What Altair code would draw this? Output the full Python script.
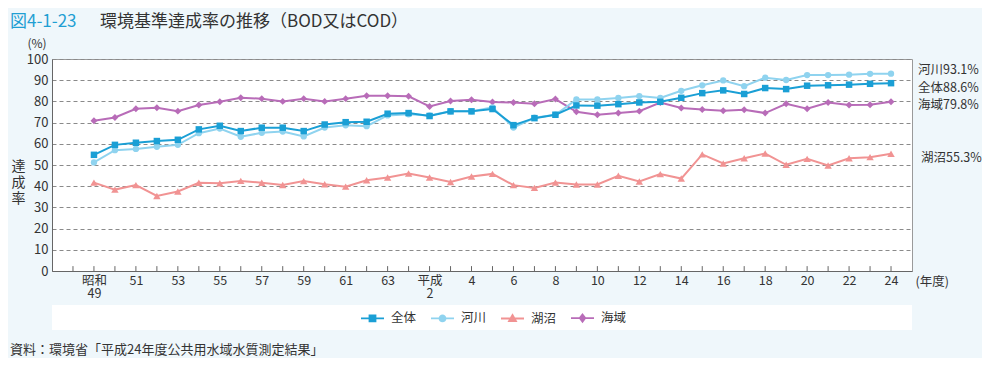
import json
import altair as alt
import pandas as pd

# ---------------- data ----------------
years = [1974, 1975, 1976, 1977, 1978, 1979, 1980, 1981, 1982, 1983, 1984, 1985, 1986,
         1987, 1988, 1989, 1990, 1991, 1992, 1993, 1994, 1995, 1996, 1997, 1998, 1999,
         2000, 2001, 2002, 2003, 2004, 2005, 2006, 2007, 2008, 2009, 2010, 2011, 2012]

zentai = [54.8, 59.5, 60.5, 61.3, 61.9, 66.8, 68.5, 66.0, 67.6, 67.6, 66.0, 69.1, 70.2,
          70.4, 74.2, 74.5, 73.1, 75.3, 75.3, 76.4, 68.8, 72.1, 73.7, 78.1, 78.0, 78.7,
          79.5, 79.8, 81.7, 83.9, 85.2, 83.5, 86.3, 85.8, 87.4, 87.6, 87.9, 88.3, 88.6]
kasen = [51.2, 57.0, 57.6, 58.6, 59.5, 65.0, 67.2, 63.3, 65.2, 65.8, 63.5, 67.7, 68.7,
         68.3, 73.4, 73.9, 73.4, 75.3, 75.3, 77.2, 67.7, 72.3, 73.7, 80.9, 80.9, 81.6,
         82.5, 81.6, 85.0, 87.6, 89.9, 87.2, 91.2, 90.1, 92.4, 92.4, 92.6, 93.0, 93.1]
kosho = [41.7, 38.4, 40.5, 35.4, 37.5, 41.6, 41.4, 42.5, 41.6, 40.6, 42.4, 40.9, 39.8,
         42.8, 44.1, 46.0, 44.1, 42.0, 44.6, 45.8, 40.5, 39.2, 41.7, 40.8, 40.8, 44.9,
         42.2, 45.7, 43.6, 55.0, 50.7, 53.2, 55.4, 50.1, 52.9, 49.8, 53.2, 53.7, 55.3]
kaiiki = [70.9, 72.4, 76.5, 77.0, 75.4, 78.3, 79.8, 81.7, 81.3, 80.0, 81.3, 80.0, 81.3,
          82.7, 82.7, 82.4, 77.6, 80.2, 80.8, 79.7, 79.5, 78.9, 81.1, 75.1, 73.7, 74.5,
          75.4, 79.5, 76.9, 76.2, 75.6, 76.1, 74.5, 78.9, 76.5, 79.5, 78.3, 78.4, 79.8]

series_names = ["全体", "河川", "湖沼", "海域"]
series_colors = ["#1a9fd5", "#8fd3ef", "#f19393", "#b86cb8"]
end_labels = ["全体88.6%", "河川93.1%", "湖沼55.3%", "海域79.8%"]

x_label_years = [1974, 1976, 1978, 1980, 1982, 1984, 1986, 1988, 1990, 1992,
                 1994, 1996, 1998, 2000, 2002, 2004, 2006, 2008, 2010, 2012]
x_labels = ["昭和\n49", "51", "53", "55", "57", "59", "61", "63", "平成\n2", "4",
            "6", "8", "10", "12", "14", "16", "18", "20", "22", "24"]
tick_years = list(range(1973, 2013))
y_ticks = [0, 10, 20, 30, 40, 50, 60, 70, 80, 90, 100]

title_num = "図4-1-23"
title_text = "環境基準達成率の推移（BOD又はCOD）"
source_text = "資料：環境省「平成24年度公共用水域水質測定結果」"

# ---------------- build ----------------
FONT = "Noto Sans CJK JP"
TXT = "#333333"
W, H = 860, 212
color_of = dict(zip(series_names, series_colors))

rows = []
for name, vals in zip(series_names, [zentai, kasen, kosho, kaiiki]):
    for yr, v in zip(years, vals):
        rows.append({"year": yr, "value": v, "series": name})
df = pd.DataFrame(rows)

end_df = pd.DataFrame({
    "series": series_names,
    "label": end_labels,
    "year": [years[-1]] * 4,
    "value": [zentai[-1], kasen[-1], kosho[-1], kaiiki[-1]],
})

label_arr = [l.split("\n") if "\n" in l else l for l in x_labels]
label_expr = json.dumps(label_arr, ensure_ascii=False) + "[round((datum.value - 1974) / 2)]"

xscale = alt.Scale(domain=[1972, 2013], nice=False, zero=False)
yscale = alt.Scale(domain=[0, 100], nice=False, zero=True)

x_axis = alt.Axis(values=x_label_years, labelExpr=label_expr, ticks=False, grid=False,
                  labelFontSize=12.5, labelLineHeight=13, labelPadding=3, labelColor=TXT,
                  labelFont=FONT, labelOverlap=False, labelFlush=False, labelBound=False,
                  domainColor="#666666", title="(年度)", titleX=863, titleY=10,
                  titleAlign="left", titleBaseline="middle", titleFont=FONT,
                  titleFontSize=12.5, titleFontWeight="normal", titleColor=TXT)
y_axis = alt.Axis(values=y_ticks, ticks=False, grid=True, gridColor="#8a8a8a",
                  gridDash=[4, 3], labelFontSize=13, labelPadding=4, labelColor=TXT,
                  labelFont=FONT, domainColor="#666666",
                  title=["達", "成", "率"], titleAngle=0, titleX=-34, titleY=107,
                  titleAlign="center", titleBaseline="middle", titleFont=FONT,
                  titleFontSize=14, titleLineHeight=16, titleFontWeight="normal",
                  titleColor=TXT)

X = alt.X("year:Q", scale=xscale, axis=x_axis)
Y = alt.Y("value:Q", scale=yscale, axis=y_axis)

one = pd.DataFrame({"a": [0]})

band = alt.Chart(one).mark_rect(color="white").encode(
    x=alt.value(0), x2=alt.value(W), y=alt.value(246), y2=alt.value(271))

tick_df = pd.DataFrame({"year": tick_years, "y0": [0] * len(tick_years),
                        "y1": [2.3] * len(tick_years)})
ticks = alt.Chart(tick_df).mark_rule(color="#666666", strokeWidth=1).encode(
    x=X, y=alt.Y("y0:Q", scale=yscale, axis=y_axis), y2="y1:Q")

shapes = {"全体": "square", "河川": "circle", "湖沼": "triangle-up", "海域": "diamond"}
sizes = {"全体": 42, "河川": 40, "湖沼": 55, "海域": 48}
draw_order = ["湖沼", "海域", "河川", "全体"]

series_layers = []
for s in draw_order:
    sub = alt.Chart(df).transform_filter(alt.datum.series == s)
    series_layers.append(sub.mark_line(strokeWidth=2, color=color_of[s]).encode(x=X, y=Y))
    series_layers.append(sub.mark_point(filled=True, shape=shapes[s], size=sizes[s],
                                        opacity=1, color=color_of[s]).encode(x=X, y=Y))

end_offsets = {"河川": (27, -4), "全体": (27, 5), "海域": (27, 3), "湖沼": (30, 4)}
end_layers = []
for s in series_names:
    dx, dy = end_offsets[s]
    end_layers.append(
        alt.Chart(end_df).transform_filter(alt.datum.series == s)
        .mark_text(align="left", baseline="middle", dx=dx, dy=dy, font=FONT,
                   fontSize=12.5, color=TXT)
        .encode(x=X, y=Y, text="label:N"))

def free_text(txt, x, y, size, color=TXT, align="left"):
    return alt.Chart(pd.DataFrame({"t": [txt]})).mark_text(
        align=align, baseline="middle", font=FONT, fontSize=size, color=color
    ).encode(text="t:N", x=alt.value(x), y=alt.value(y))

texts = [
    free_text(title_num, -42, -37.5, 17, color="#1f9fd3"),
    free_text(title_text, 48, -37.5, 17),
    free_text("(%)", -15, -15, 12, align="center"),
    free_text(source_text, -42, 291, 13),
]

legend_paths = [
    "M-1,0H1M-0.26,-0.26H0.26V0.26H-0.26Z",
    "M-1,0H1M0.26,0A0.26,0.26,0,1,1,-0.26,0A0.26,0.26,0,1,1,0.26,0Z",
    "M-1,0H1M0,-0.3L0.3,0.22H-0.3Z",
    "M-1,0H1M0,-0.32L0.24,0L0,0.32L-0.24,0Z",
]
leg = alt.Legend(orient="none", legendX=308, legendY=246.5, direction="horizontal",
                 title=None, symbolSize=529, symbolStrokeWidth=1.8, symbolOpacity=1,
                 labelFont=FONT, labelFontSize=12.5, labelColor=TXT, labelOffset=6,
                 columnPadding=10, padding=0)
# legend-only layer: its own marks are parked outside the drawing
legend_layer = alt.Chart(pd.DataFrame({"series": series_names})).mark_point(
    filled=True, size=529, strokeWidth=1.8).encode(
    x=alt.value(-2000), y=alt.value(-2000),
    fill=alt.Fill("series:N", scale=alt.Scale(domain=series_names, range=series_colors),
                  legend=leg),
    stroke=alt.Stroke("series:N", scale=alt.Scale(domain=series_names, range=series_colors),
                      legend=leg),
    shape=alt.Shape("series:N", scale=alt.Scale(domain=series_names, range=legend_paths),
                    legend=leg),
)

chart = alt.layer(band, ticks, *series_layers, *end_layers, *texts, legend_layer).properties(
    width=W, height=H,
    autosize=alt.AutoSizeParams(type="none"),
    padding={"left": 44, "top": 51, "right": 70, "bottom": 87},
    background="#eff7fb",
).configure_view(fill="white", stroke="#9a9a9a", strokeWidth=1)

chart.save("out.html", embed_options={"renderer": "svg", "actions": False})
